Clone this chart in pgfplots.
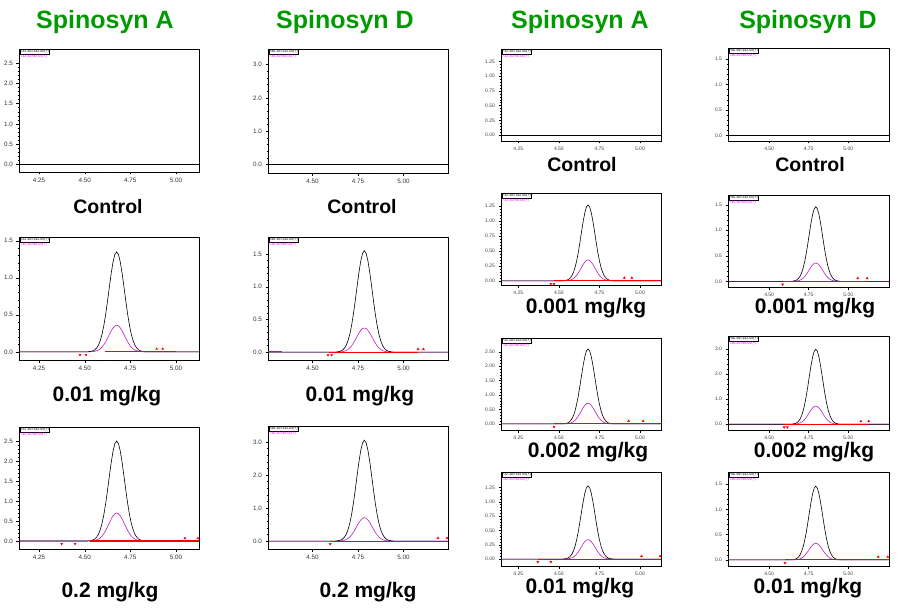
\documentclass[border=0pt]{standalone}
\usepackage{pgfplots}
\pgfplotsset{compat=1.18}
\usepackage{pgfplotstable}
\usepackage{fontspec}
\setmainfont{Liberation Sans}
\definecolor{tgreen}{RGB}{0,155,0}
\definecolor{tmag}{RGB}{190,30,190}
\definecolor{lmag}{RGB}{255,0,255}

% t = retention time (min), k = 142 transition (black), m = 98 transition (magenta)
\pgfplotstableread{
t k m
4.14 0 0
4.515 0 0
4.525 0.003 0.001
4.535 0.007 0.002
4.545 0.014 0.004
4.555 0.027 0.007
4.565 0.051 0.014
4.575 0.090 0.024
4.585 0.151 0.040
4.595 0.239 0.064
4.605 0.359 0.096
4.615 0.510 0.136
4.625 0.687 0.183
4.635 0.876 0.234
4.645 1.058 0.282
4.655 1.211 0.323
4.665 1.314 0.350
4.675 1.35 0.36
4.685 1.314 0.350
4.695 1.211 0.323
4.705 1.058 0.282
4.715 0.876 0.234
4.725 0.687 0.183
4.735 0.510 0.136
4.745 0.359 0.096
4.755 0.239 0.064
4.765 0.151 0.040
4.775 0.090 0.024
4.785 0.051 0.014
4.795 0.027 0.007
4.805 0.014 0.004
4.815 0.007 0.002
4.825 0.003 0.001
4.835 0 0
5.126 0 0
}\tPone
\pgfplotstableread{
t k m
4.14 0 0
4.515 0 0
4.525 0.005 0.001
4.535 0.013 0.004
4.545 0.025 0.007
4.555 0.05 0.014
4.565 0.095 0.027
4.575 0.168 0.047
4.585 0.28 0.078
4.595 0.443 0.124
4.605 0.665 0.186
4.615 0.945 0.265
4.625 1.273 0.356
4.635 1.623 0.454
4.645 1.96 0.549
4.655 2.243 0.628
4.665 2.433 0.681
4.675 2.5 0.7
4.685 2.433 0.681
4.695 2.243 0.628
4.705 1.96 0.549
4.715 1.623 0.454
4.725 1.273 0.356
4.735 0.945 0.265
4.745 0.665 0.186
4.755 0.443 0.124
4.765 0.28 0.078
4.775 0.168 0.047
4.785 0.095 0.027
4.795 0.05 0.014
4.805 0.025 0.007
4.815 0.013 0.004
4.825 0.005 0.001
4.835 0 0
5.126 0 0
}\tPtwo
\pgfplotstableread{
t k m
4.255 0 0
4.625 0 0
4.635 0.003 0.001
4.645 0.008 0.002
4.655 0.016 0.004
4.665 0.031 0.007
4.675 0.059 0.014
4.685 0.104 0.025
4.695 0.174 0.041
4.705 0.274 0.065
4.715 0.412 0.098
4.725 0.586 0.140
4.735 0.789 0.188
4.745 1.006 0.240
4.755 1.215 0.290
4.765 1.390 0.332
4.775 1.508 0.360
4.785 1.55 0.37
4.795 1.508 0.360
4.805 1.390 0.332
4.815 1.215 0.290
4.825 1.006 0.240
4.835 0.789 0.188
4.845 0.586 0.140
4.855 0.412 0.098
4.865 0.274 0.065
4.875 0.174 0.041
4.885 0.104 0.025
4.895 0.059 0.014
4.905 0.031 0.007
4.915 0.016 0.004
4.925 0.008 0.002
4.935 0.003 0.001
4.945 0 0
5.245 0 0
}\tPthree
\pgfplotstableread{
t k m
4.255 0 0
4.625 0 0
4.635 0.006 0.001
4.645 0.015 0.004
4.655 0.031 0.007
4.665 0.061 0.014
4.675 0.116 0.027
4.685 0.204 0.048
4.695 0.342 0.080
4.705 0.540 0.126
4.715 0.811 0.189
4.725 1.153 0.268
4.735 1.552 0.361
4.745 1.979 0.461
4.755 2.391 0.557
4.765 2.736 0.637
4.775 2.968 0.691
4.785 3.05 0.71
4.795 2.968 0.691
4.805 2.736 0.637
4.815 2.391 0.557
4.825 1.979 0.461
4.835 1.552 0.361
4.845 1.153 0.268
4.855 0.811 0.189
4.865 0.540 0.126
4.875 0.342 0.080
4.885 0.204 0.048
4.895 0.116 0.027
4.905 0.061 0.014
4.915 0.031 0.007
4.925 0.015 0.004
4.935 0.006 0.001
4.945 0 0
5.245 0 0
}\tPfour
\pgfplotstableread{
t k m
4.143 0 0
4.52 0 0
4.53 0.003 0.001
4.54 0.006 0.002
4.55 0.013 0.004
4.56 0.025 0.007
4.57 0.048 0.013
4.58 0.085 0.023
4.59 0.142 0.039
4.60 0.225 0.062
4.61 0.338 0.093
4.62 0.480 0.132
4.63 0.646 0.178
4.64 0.824 0.227
4.65 0.996 0.274
4.66 1.139 0.314
4.67 1.236 0.341
4.68 1.27 0.35
4.69 1.236 0.341
4.70 1.139 0.314
4.71 0.996 0.274
4.72 0.824 0.227
4.73 0.646 0.178
4.74 0.480 0.132
4.75 0.338 0.093
4.76 0.225 0.062
4.77 0.142 0.039
4.78 0.085 0.023
4.79 0.048 0.013
4.80 0.025 0.007
4.81 0.013 0.004
4.82 0.006 0.002
4.83 0.003 0.001
4.84 0 0
5.13 0 0
}\tPfive
\pgfplotstableread{
t k m
4.143 0 0
4.52 0 0
4.53 0.005 0.001
4.54 0.013 0.004
4.55 0.026 0.007
4.56 0.052 0.014
4.57 0.099 0.027
4.58 0.174 0.048
4.59 0.291 0.081
4.60 0.460 0.127
4.61 0.692 0.192
4.62 0.983 0.272
4.63 1.323 0.366
4.64 1.687 0.467
4.65 2.038 0.564
4.66 2.332 0.646
4.67 2.530 0.701
4.68 2.6 0.72
4.69 2.530 0.701
4.70 2.332 0.646
4.71 2.038 0.564
4.72 1.687 0.467
4.73 1.323 0.366
4.74 0.983 0.272
4.75 0.692 0.192
4.76 0.460 0.127
4.77 0.291 0.081
4.78 0.174 0.048
4.79 0.099 0.027
4.80 0.052 0.014
4.81 0.026 0.007
4.82 0.013 0.004
4.83 0.005 0.001
4.84 0 0
5.13 0 0
}\tPsix
\pgfplotstableread{
t k m
4.143 0 0
4.52 0 0
4.53 0.003 0.001
4.54 0.006 0.002
4.55 0.013 0.003
4.56 0.026 0.007
4.57 0.049 0.013
4.58 0.086 0.023
4.59 0.143 0.038
4.60 0.227 0.060
4.61 0.340 0.090
4.62 0.484 0.129
4.63 0.652 0.173
4.64 0.831 0.221
4.65 1.004 0.267
4.66 1.148 0.305
4.67 1.245 0.331
4.68 1.28 0.34
4.69 1.245 0.331
4.70 1.148 0.305
4.71 1.004 0.267
4.72 0.831 0.221
4.73 0.652 0.173
4.74 0.484 0.129
4.75 0.340 0.090
4.76 0.227 0.060
4.77 0.143 0.038
4.78 0.086 0.023
4.79 0.049 0.013
4.80 0.026 0.007
4.81 0.013 0.003
4.82 0.006 0.002
4.83 0.003 0.001
4.84 0 0
5.13 0 0
}\tPseven
\pgfplotstableread{
t k m
4.24 0 0
4.635 0 0
4.645 0.003 0.001
4.655 0.007 0.002
4.665 0.015 0.004
4.675 0.029 0.007
4.685 0.055 0.014
4.695 0.098 0.024
4.705 0.164 0.040
4.715 0.258 0.064
4.725 0.388 0.096
4.735 0.552 0.136
4.745 0.743 0.183
4.755 0.948 0.234
4.765 1.145 0.282
4.775 1.310 0.323
4.785 1.421 0.350
4.795 1.46 0.36
4.805 1.421 0.350
4.815 1.310 0.323
4.825 1.145 0.282
4.835 0.948 0.234
4.845 0.743 0.183
4.855 0.552 0.136
4.865 0.388 0.096
4.875 0.258 0.064
4.885 0.164 0.040
4.895 0.098 0.024
4.905 0.055 0.014
4.915 0.029 0.007
4.925 0.015 0.004
4.935 0.007 0.002
4.945 0.003 0.001
4.955 0 0
5.258 0 0
}\tPeight
\pgfplotstableread{
t k m
4.24 0 0
4.635 0 0
4.645 0.006 0.001
4.655 0.015 0.004
4.665 0.03 0.007
4.675 0.06 0.015
4.685 0.114 0.028
4.695 0.201 0.049
4.705 0.336 0.082
4.715 0.531 0.129
4.725 0.798 0.194
4.735 1.134 0.276
4.745 1.527 0.372
4.755 1.947 0.474
4.765 2.352 0.572
4.775 2.691 0.655
4.785 2.919 0.710
4.795 3.0 0.73
4.805 2.919 0.710
4.815 2.691 0.655
4.825 2.352 0.572
4.835 1.947 0.474
4.845 1.527 0.372
4.855 1.134 0.276
4.865 0.798 0.194
4.875 0.531 0.129
4.885 0.336 0.082
4.895 0.201 0.049
4.905 0.114 0.028
4.915 0.06 0.015
4.925 0.03 0.007
4.935 0.015 0.004
4.945 0.006 0.001
4.955 0 0
5.258 0 0
}\tPnine
\pgfplotstableread{
t k m
4.24 0 0
4.635 0 0
4.645 0.003 0.001
4.655 0.007 0.002
4.665 0.015 0.003
4.675 0.029 0.007
4.685 0.055 0.013
4.695 0.098 0.022
4.705 0.164 0.037
4.715 0.258 0.058
4.725 0.388 0.088
4.735 0.552 0.125
4.745 0.743 0.168
4.755 0.948 0.214
4.765 1.145 0.259
4.775 1.310 0.296
4.785 1.421 0.321
4.795 1.46 0.33
4.805 1.421 0.321
4.815 1.310 0.296
4.825 1.145 0.259
4.835 0.948 0.214
4.845 0.743 0.168
4.855 0.552 0.125
4.865 0.388 0.088
4.875 0.258 0.058
4.885 0.164 0.037
4.895 0.098 0.022
4.905 0.055 0.013
4.915 0.029 0.007
4.925 0.015 0.003
4.935 0.007 0.002
4.945 0.003 0.001
4.955 0 0
5.258 0 0
}\tPten

\pgfplotsset{
  chrom/.style={scale only axis, anchor=north west, clip=true,
    axis line style={line width=0.7pt},
    tick align=outside, xtick pos=lower, ytick pos=left,
    major tick length=2.5pt, minor tick length=1.4pt,
    every tick/.style={black, line width=0.4pt},
    minor x tick num=4, minor y tick num=4,
    tick label style={font=\fontsize{6.3}{7}\selectfont, text=black!80},
    /pgf/number format/assume math mode=true,
    scaled ticks=false,
    xtick={4.25,4.5,4.75,5.0},
    xticklabel style={/pgf/number format/.cd,fixed,fixed zerofill,precision=2},
  },
  small/.style={tick label style={font=\fontsize{5}{6}\selectfont, text=black!75}},
  yone/.style={yticklabel style={/pgf/number format/.cd,fixed,fixed zerofill,precision=1}},
  ytwo/.style={yticklabel style={/pgf/number format/.cd,fixed,fixed zerofill,precision=2}},
  colone/.style={chrom, yone, at={(19pt,-#1)}, width=180pt, xmin=4.14, xmax=5.126},
  coltwo/.style={chrom, yone, at={(268pt,-#1)}, width=180pt, xmin=4.255, xmax=5.245, xtick={4.5,4.75,5.0}},
  colthree/.style={chrom, small, ytwo, at={(501pt,-#1)}, width=160pt, xmin=4.143, xmax=5.13},
  colfour/.style={chrom, small, yone, at={(728pt,-#1)}, width=161pt, xmin=4.24, xmax=5.258, xtick={4.5,4.75,5.0}},
}

\newcommand{\hdr}[1]{%
  \node[anchor=south west, font=\fontsize{3.6}{4}\selectfont, inner sep=0.4pt, text=darkgray] at (rel axis cs:0,1) {(x1,000,000)};
  \node[anchor=north west, font=\fontsize{3.6}{4}\selectfont, inner sep=0.4pt, draw=black, line width=0.3pt] (h1) at (rel axis cs:0.004,0.996) {#1>142.05(+)};
  \node[anchor=north west, font=\fontsize{3.6}{4}\selectfont, inner sep=0.4pt, text=lmag] at (h1.south west) {#1>98.05(+)};
}
\newcommand{\traces}[1]{%
  \addplot[tmag, line width=0.6pt] table[x=t, y=m] {#1};
  \addplot[black, line width=0.6pt] table[x=t, y=k] {#1};
}
\newcommand{\redbits}[4]{%
  \addplot[red, line width=1.1pt] coordinates {(#1,0) (#2,0)};
  \addplot[red, only marks, mark=triangle*, mark size=1.2pt, mark options={rotate=180}] coordinates {#3};
  \addplot[red, only marks, mark=triangle*, mark size=1.2pt] coordinates {#4};
}

\begin{document}
\begin{tikzpicture}
\path[use as bounding box] (0pt,0pt) rectangle (900pt,-615pt);

\begin{scope}[font=\fontsize{25}{28}\selectfont\bfseries, text=tgreen]
\node at (105pt,-22pt) {Spinosyn A};
\node at (345pt,-22pt) {Spinosyn D};
\node at (580pt,-22pt) {Spinosyn A};
\node at (808pt,-22pt) {Spinosyn D};
\end{scope}

% ---------------- column 1: Spinosyn A ----------------
\begin{axis}[colone=49pt, height=123pt, ymin=-0.19, ymax=2.85, ytick={0,0.5,1,1.5,2,2.5}]
\addplot[black, line width=0.6pt] coordinates {(4.14,0) (5.126,0)};
\hdr{732.30}
\end{axis}
\begin{axis}[colone=237pt, height=123pt, ymin=-0.11, ymax=1.55, ytick={0,0.5,1,1.5}]
\traces{\tPone}
\redbits{4.61}{5.0}{(4.474,-0.04) (4.507,-0.04)}{(4.894,0.04) (4.927,0.04)}
\hdr{732.30}
\end{axis}
\begin{axis}[colone=427pt, height=122pt, ymin=-0.20, ymax=2.85, ytick={0,0.5,1,1.5,2,2.5}]
\traces{\tPtwo}
\redbits{4.53}{5.126}{(4.374,-0.07) (4.447,-0.07)}{(5.049,0.07) (5.12,0.07)}
\hdr{732.30}
\end{axis}

% ---------------- column 2: Spinosyn D ----------------
\begin{axis}[coltwo=49pt, height=124pt, ymin=-0.26, ymax=3.47, ytick={0,1,2,3}]
\addplot[black, line width=0.6pt] coordinates {(4.255,0) (5.245,0)};
\hdr{746.30}
\end{axis}
\begin{axis}[coltwo=237pt, height=123pt, ymin=-0.12, ymax=1.76, ytick={0,0.5,1,1.5}]
\addplot[tmag, line width=0.8pt] coordinates {(4.255,0.01) (4.33,0.01)};
\traces{\tPthree}
\redbits{4.59}{5.08}{(4.585,-0.045) (4.605,-0.045)}{(5.08,0.045) (5.11,0.045)}
\hdr{746.30}
\end{axis}
\begin{axis}[coltwo=426pt, height=123pt, ymin=-0.24, ymax=3.48, ytick={0,1,2,3}]
\traces{\tPfour}
\redbits{4.597}{5.245}{(4.597,-0.09)}{(5.19,0.09) (5.24,0.09)}
\hdr{746.30}
\end{axis}

% ---------------- column 3: Spinosyn A ----------------
\begin{axis}[colthree=49pt, height=92pt, ymin=-0.10, ymax=1.46, ytick={0,0.25,0.5,0.75,1,1.25}]
\addplot[black, line width=0.6pt] coordinates {(4.143,0) (5.13,0)};
\hdr{732.30}
\end{axis}
\begin{axis}[colthree=193pt, height=92pt, ymin=-0.07, ymax=1.47, ytick={0,0.25,0.5,0.75,1,1.25}]
\traces{\tPfive}
\redbits{4.467}{5.13}{(4.45,-0.05) (4.47,-0.05)}{(4.904,0.05) (4.95,0.05)}
\hdr{732.30}
\end{axis}
\begin{axis}[colthree=338pt, height=92pt, ymin=-0.21, ymax=2.98, ytick={0,0.5,1,1.5,2,2.5}]
\traces{\tPsix}
\redbits{4.47}{5.13}{(4.47,-0.1)}{(4.93,0.1) (5.02,0.1)}
\hdr{732.30}
\end{axis}
\begin{axis}[colthree=472pt, height=94pt, ymin=-0.12, ymax=1.52, ytick={0,0.25,0.5,0.75,1,1.25}]
\traces{\tPseven}
\redbits{4.37}{5.13}{(4.37,-0.05) (4.45,-0.05)}{(5.01,0.05) (5.125,0.05)}
\hdr{732.30}
\end{axis}

% ---------------- column 4: Spinosyn D ----------------
\begin{axis}[colfour=48pt, height=93pt, ymin=-0.11, ymax=1.72, ytick={0,0.5,1,1.5}]
\addplot[black, line width=0.6pt] coordinates {(4.24,0) (5.258,0)};
\hdr{746.30}
\end{axis}
\begin{axis}[colfour=195pt, height=92pt, ymin=-0.11, ymax=1.69, ytick={0,0.5,1,1.5}]
\traces{\tPeight}
\redbits{4.585}{5.117}{(4.585,-0.06)}{(5.06,0.06) (5.12,0.06)}
\hdr{746.30}
\end{axis}
\begin{axis}[colfour=336pt, height=94pt, ymin=-0.23, ymax=3.53, ytick={0,1,2,3}]
\traces{\tPnine}
\redbits{4.595}{5.127}{(4.595,-0.12) (4.615,-0.12)}{(5.08,0.12) (5.13,0.12)}
\hdr{746.30}
\end{axis}
\begin{axis}[colfour=472pt, height=94pt, ymin=-0.12, ymax=1.74, ytick={0,0.5,1,1.5}]
\traces{\tPten}
\redbits{4.60}{5.258}{(4.60,-0.06)}{(5.19,0.06) (5.25,0.06)}
\hdr{746.30}
\end{axis}

% ---------------- sample labels ----------------
\begin{scope}[font=\fontsize{19.5}{22}\selectfont\bfseries]
\node at (108pt,-207pt) {Control};
\node at (362pt,-207pt) {Control};
\node at (582pt,-165pt) {Control};
\node at (810pt,-165pt) {Control};
\end{scope}
\begin{scope}[font=\fontsize{21}{24}\selectfont\bfseries]
\node at (107pt,-396pt) {0.01 mg/kg};
\node at (360pt,-396pt) {0.01 mg/kg};
\node at (110pt,-592pt) {0.2 mg/kg};
\node at (368pt,-592pt) {0.2 mg/kg};
\node at (586pt,-308pt) {0.001 mg/kg};
\node at (815pt,-308pt) {0.001 mg/kg};
\node at (588pt,-452pt) {0.002 mg/kg};
\node at (814pt,-452pt) {0.002 mg/kg};
\node at (580pt,-588pt) {0.01 mg/kg};
\node at (808pt,-588pt) {0.01 mg/kg};
\end{scope}
\end{tikzpicture}
\end{document}
